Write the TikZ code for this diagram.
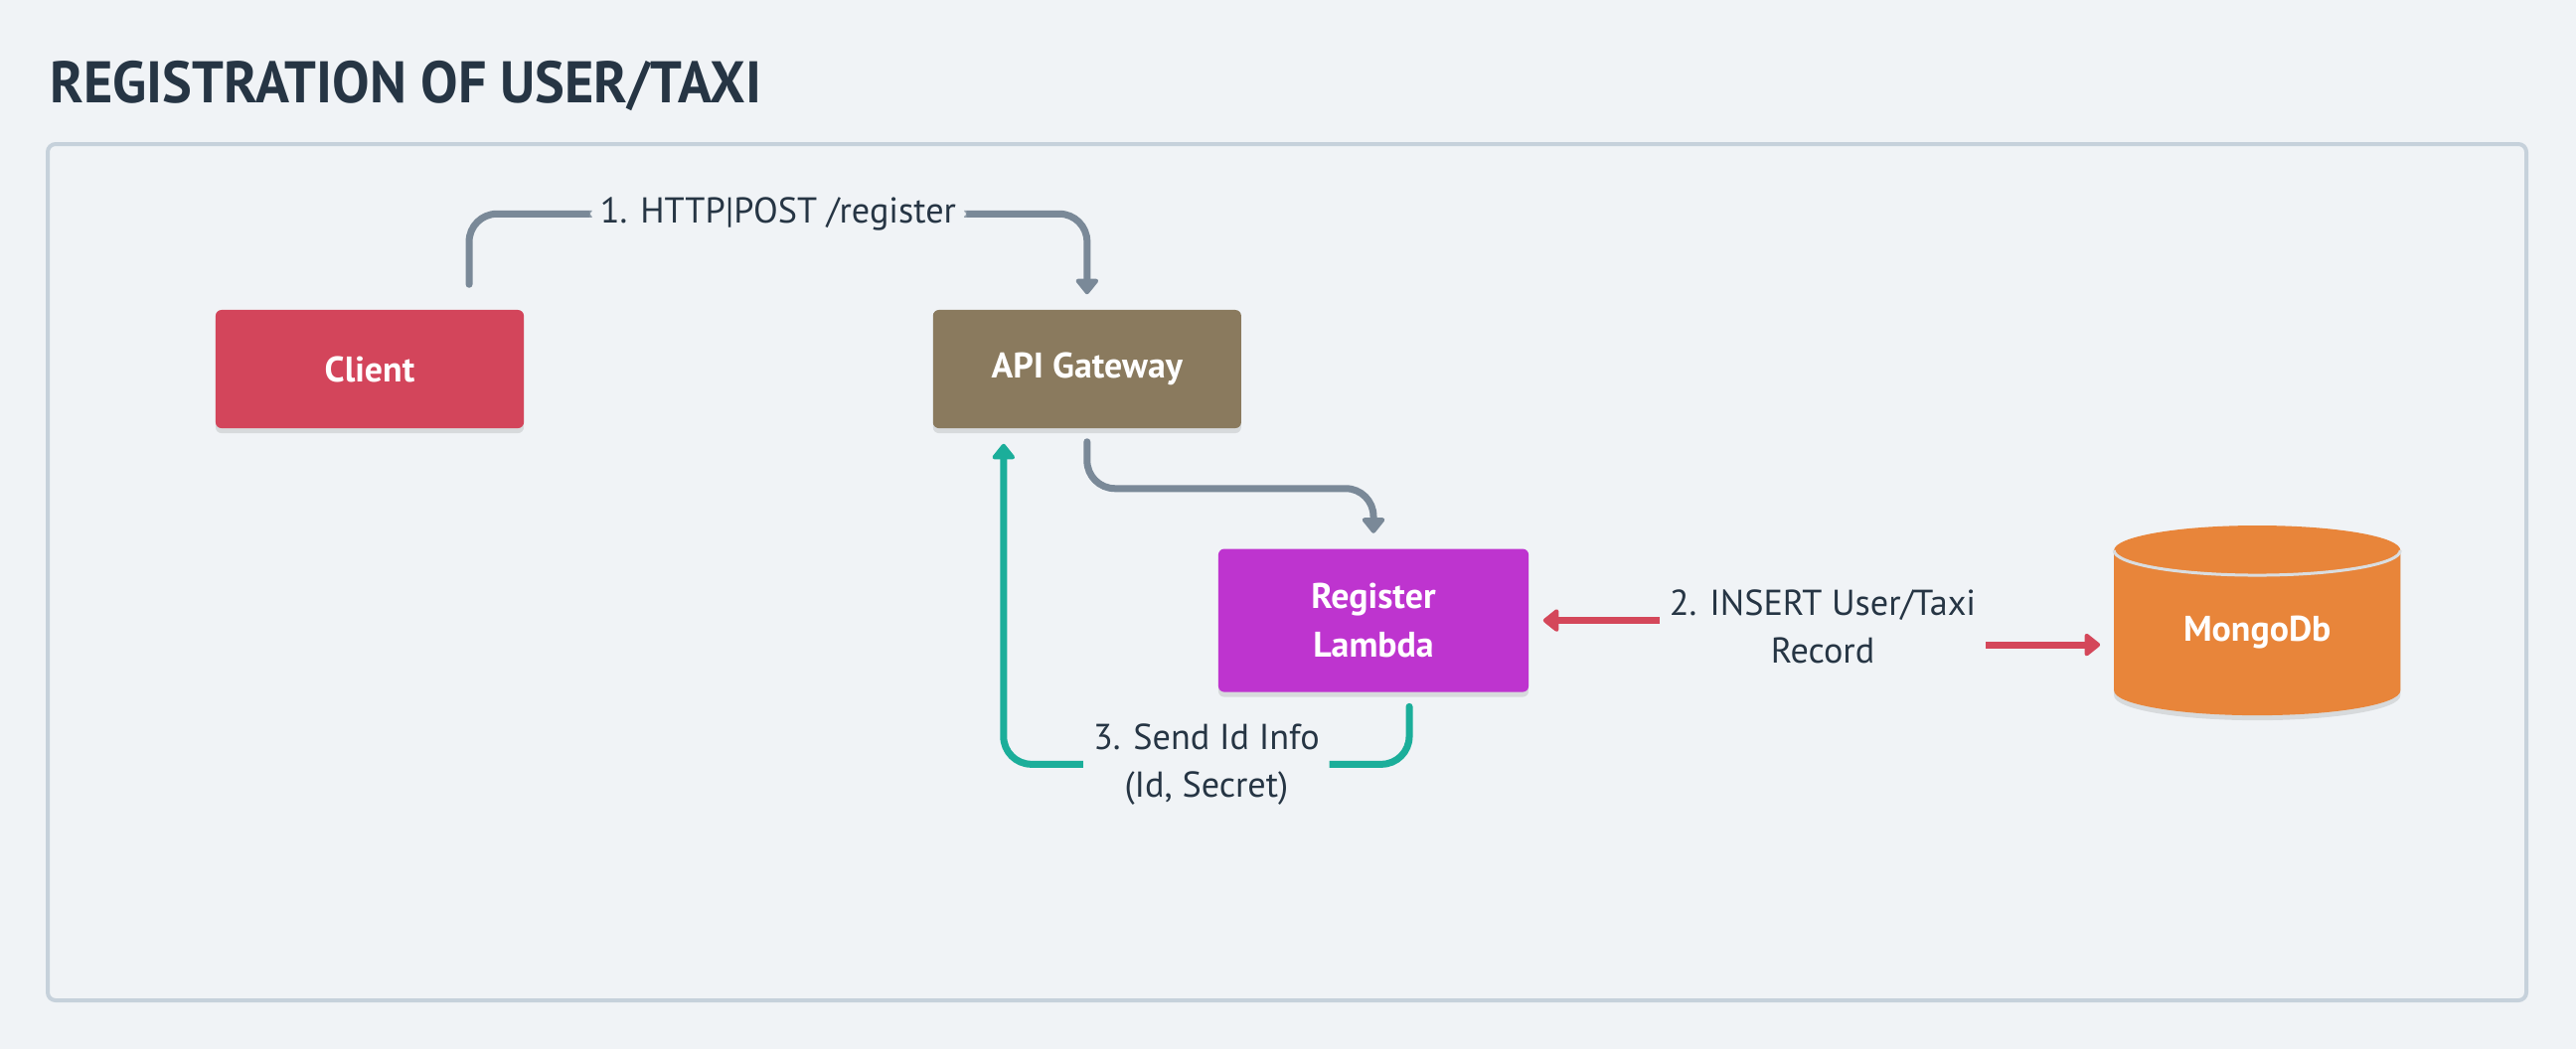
\documentclass[tikz,border=0pt]{standalone}
\usepackage{fontspec}
\setmainfont{PT Sans}
\newfontfamily\headfont[FakeStretch=0.95]{PT Sans}
\usetikzlibrary{arrows.meta,positioning,shadows,calc}

\definecolor{bgcol}{HTML}{F0F3F6}
\definecolor{framecol}{HTML}{C6D1DB}
\definecolor{inkcol}{HTML}{263544}
\definecolor{clientcol}{HTML}{D3455B}
\definecolor{gatecol}{HTML}{8A7A5E}
\definecolor{lambdacol}{HTML}{BE34CF}
\definecolor{mongocol}{HTML}{E8853A}
\definecolor{rimcol}{HTML}{D9DDE0}
\definecolor{flowcol}{HTML}{7A8998}
\definecolor{replycol}{HTML}{1BAE9A}
\definecolor{dbcol}{HTML}{D4475A}

\begin{document}
\begin{tikzpicture}[x=0.01cm,y=0.01cm,>={Triangle[length=0.17cm,width=0.26cm,round]},
                    node distance=4.1cm]
  \tikzstyle{box}=[rectangle,rounded corners=0.06cm,minimum width=3.1cm,minimum height=1.19cm,
                   text=white,align=center,font=\bfseries\fontsize{10.2}{13.7}\selectfont,
                   drop shadow={shadow xshift=0cm,shadow yshift=-0.05cm,opacity=0.1,fill=black}]
  \tikzstyle{lbl}=[fill=bgcol,text=inkcol,align=center,inner xsep=0.1cm,inner ysep=0.05cm,
                   font=\fontsize{10.3}{13.7}\selectfont]
  \tikzstyle{flow}=[->,draw=flowcol,line width=0.07cm,line cap=round,rounded corners=0.28cm,
                    shorten >=0.15cm]
  \tikzstyle{reply}=[flow,draw=replycol]
  \tikzstyle{store}=[<->,draw=dbcol,line width=0.07cm,line cap=round,
                     shorten >=0.14cm,shorten <=0.14cm]

  \useasboundingbox (0,0) rectangle (2592,-1056);
  \fill[bgcol] (0,0) rectangle (2592,-1056);
  \draw[framecol,line width=0.04cm,rounded corners=0.08cm] (48,-145) rectangle (2542,-1007);

  \node[anchor=base west,inner sep=0,text=inkcol,font=\headfont\bfseries\fontsize{16.8}{20}\selectfont]
       (T) at (50,-103) {REGISTRATION OF USER/TAXI};

  \node[box,fill=clientcol]   (C) at (372,-371.5)         {Client};
  \node[box,fill=gatecol]     (G) [right=of C]            {API Gateway};
  \node[box,fill=lambdacol,minimum width=3.12cm,minimum height=1.44cm]
                              (L) [below=1.2cm of G,xshift=2.88cm] {Register\\Lambda};
  \node[rectangle,outer sep=0,minimum width=2.88cm,minimum height=1.41cm]
                              (M) [right=5.88cm of L]     {};

  % database drum
  \fill[mongocol,drop shadow={shadow xshift=0cm,shadow yshift=-0.05cm,opacity=0.1,fill=black}]
    (M.north west) -- (M.south west) arc[start angle=180,end angle=360,x radius=1.44cm,y radius=0.25cm]
    -- (M.north east) arc[start angle=0,end angle=180,x radius=1.44cm,y radius=0.25cm] -- cycle;
  \draw[rimcol,line width=0.03cm] (M.north west) arc[start angle=180,end angle=360,x radius=1.44cm,y radius=0.25cm];
  \node[text=white,font=\bfseries\fontsize{10.2}{13.7}\selectfont] (MT) at ([yshift=-0.12cm]M.center) {MongoDb};

  \draw[flow,shorten <=0.25cm] ([xshift=1cm]C.north) -- ++(0,96) -| (G.north)
        node[lbl,pos=0.25] (P1) {1. HTTP|POST /register};
  \draw[flow,shorten <=0.13cm] (G.south) -- ++(0,-60) -| (L.north);
  \draw[reply,shorten <=0.14cm] ([xshift=0.36cm]L.south) -- ++(0,-72) -| ([xshift=-0.84cm]G.south)
        node[lbl,pos=0.25] (P3) {3. Send Id Info\\(Id, Secret)};

  \coordinate (S) at (1834,-631);
  \draw[store] (L.east) -- (L.east -| S) -- ([yshift=-0.245cm]M.west -| S) -- ([yshift=-0.245cm]M.west);
  \node[lbl] (P2) at (S) {2. INSERT User/Taxi\\Record};
\end{tikzpicture}
\end{document}
